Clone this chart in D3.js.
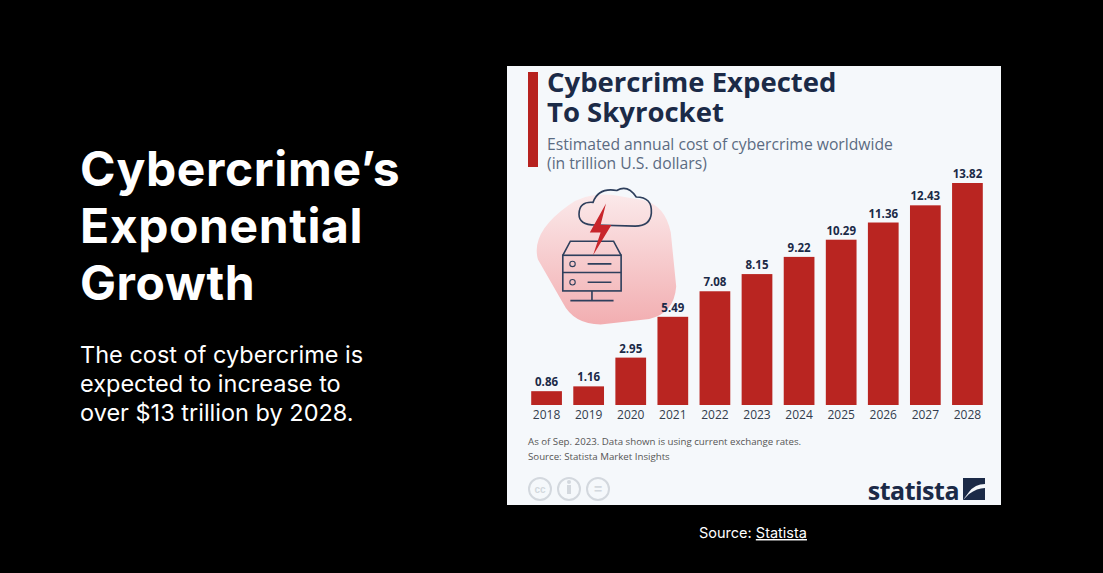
<!DOCTYPE html>
<html><head><meta charset="utf-8">
<script src="https://cdn.jsdelivr.net/npm/d3@7"></script>
<style>body{margin:0;background:#000;}svg{display:block;}</style>
</head><body><svg id="c" width="1103" height="573"></svg>
<script>
var years = ["2018","2019","2020","2021","2022","2023","2024","2025","2026","2027","2028"];
var cost = [0.86,1.16,2.95,5.49,7.08,8.15,9.22,10.29,11.36,12.43,13.82];
var headline = ["Cybercrime’s","Exponential","Growth"];
var blurb = ["The cost of cybercrime is","expected to increase to","over $13 trillion by 2028."];

var svg = d3.select("#c");
var font = "Inter, 'Open Sans', sans-serif";

// left side text
svg.selectAll(".h").data(headline).enter().append("text")
  .attr("x", 80).attr("y", function(d,i){ return 186 + i*57; })
  .attr("fill", "#fff").attr("font-family", font).attr("font-weight", 700)
  .attr("font-size", 48).attr("letter-spacing", 0.6).text(function(d){ return d; });
svg.selectAll(".b").data(blurb).enter().append("text")
  .attr("x", 80).attr("y", function(d,i){ return 363 + i*29; })
  .attr("fill", "#fff").attr("font-family", font).attr("font-size", 23.5).text(function(d){ return d; });

var src = svg.append("text").attr("x", 753).attr("y", 538).attr("text-anchor", "middle")
  .attr("fill", "#fff").attr("font-family", font).attr("font-size", 14.5);
src.append("tspan").text("Source: ");
src.append("tspan").attr("text-decoration", "underline").text("Statista");

// statista panel
var g = svg.append("g").attr("transform", "translate(507,66)");
g.append("rect").attr("width", 494).attr("height", 439).attr("fill", "#f5f8fb");
g.append("rect").attr("x", 21).attr("y", 6).attr("width", 10).attr("height", 95).attr("fill", "#b7221f");
["Cybercrime Expected","To Skyrocket"].forEach(function(t,i){
  g.append("text").attr("x", 40).attr("y", 26 + i*30).attr("font-family", "'Open Sans', sans-serif")
    .attr("font-weight", 700).attr("font-size", 27.5).attr("fill", "#1b2a47").text(t);
});
["Estimated annual cost of cybercrime worldwide","(in trillion U.S. dollars)"].forEach(function(t,i){
  g.append("text").attr("x", 40).attr("y", 84 + i*19).attr("font-family", "'Open Sans', sans-serif")
    .attr("font-size", 15.7).attr("fill", "#5b6b82").text(t);
});

// icon
var ic = g.append("g").attr("transform", "translate(18,118) scale(1.08)");
var grad = svg.append("defs").append("linearGradient").attr("id","pg").attr("x1",0).attr("y1",0).attr("x2",0).attr("y2",1);
grad.append("stop").attr("offset","0").attr("stop-color","#fbe9ea");
grad.append("stop").attr("offset","1").attr("stop-color","#f2aeb1");
ic.append("path").attr("d","M40,20 Q55,8 80,10 L110,15 Q130,20 135,45 L140,95 Q138,120 115,125 L70,130 Q45,130 35,110 L12,70 Q5,45 40,20Z").attr("fill","url(#pg)");
ic.append("path").attr("d","M65,38 Q50,38 50,28 Q50,16 63,17 Q68,3 85,6 Q95,0 103,12 Q118,12 117,27 Q116,39 102,39 Z").attr("fill","none").attr("stroke","#2e3f5c").attr("stroke-width",1.5);
ic.append("rect").attr("x",35).attr("y",66).attr("width",54).attr("height",33).attr("fill","none").attr("stroke","#2e3f5c").attr("stroke-width",1.5);
ic.append("path").attr("d","M35,66 L42,53 L82,53 L89,66 M62,99 L62,108 M42,108 L82,108 M35,82 L89,82 M58,74 L80,74 M58,91 L80,91").attr("fill","none").attr("stroke","#2e3f5c").attr("stroke-width",1.5);
ic.append("circle").attr("cx",44).attr("cy",74).attr("r",2.5).attr("fill","none").attr("stroke","#2e3f5c");
ic.append("circle").attr("cx",44).attr("cy",91).attr("r",2.5).attr("fill","none").attr("stroke","#2e3f5c");
ic.append("path").attr("d","M75,18 L60,45 L70,45 L63,66 L80,38 L70,38 Z").attr("fill","#c8252b");

// bars
var x = d3.scaleBand().domain(years).range([20, 480]).paddingInner(0.27).paddingOuter(0.1);
var y = d3.scaleLinear().domain([0, 13.82]).range([339, 117]);
g.selectAll(".bar").data(cost).enter().append("rect")
  .attr("x", function(d,i){ return x(years[i]); }).attr("width", x.bandwidth())
  .attr("y", function(d){ return y(d); }).attr("height", function(d){ return y(0) - y(d); })
  .attr("fill", "#b92521");
g.selectAll(".val").data(cost).enter().append("text")
  .attr("x", function(d,i){ return x(years[i]) + x.bandwidth()/2; }).attr("y", function(d){ return y(d) - 5; })
  .attr("text-anchor", "middle").attr("font-family", "'Open Sans', sans-serif").attr("font-weight", 700)
  .attr("font-size", 11.5).attr("fill", "#1b2a47").text(function(d){ return d.toFixed(2); });
var ax = g.append("g").attr("transform", "translate(0,339)")
  .call(d3.axisBottom(x).tickSize(0).tickPadding(5));
ax.select(".domain").remove();
ax.selectAll("text").attr("font-family", "'Open Sans', sans-serif").attr("font-size", 12).attr("fill", "#333d4d");

g.append("text").attr("x", 21).attr("y", 379).attr("font-family", "'Open Sans', sans-serif").attr("font-size", 9.7).attr("fill", "#555")
  .text("As of Sep. 2023. Data shown is using current exchange rates.");
g.append("text").attr("x", 21).attr("y", 394).attr("font-family", "'Open Sans', sans-serif").attr("font-size", 9.7).attr("fill", "#555")
  .text("Source: Statista Market Insights");
[33, 62, 91].forEach(function(cx, i){
  g.append("circle").attr("cx", cx).attr("cy", 423).attr("r", 11).attr("fill", "none").attr("stroke", "#d3d8de").attr("stroke-width", 2);
});
g.append("text").attr("x", 33).attr("y", 427).attr("text-anchor","middle").attr("font-family","sans-serif").attr("font-size",10).attr("font-weight",700).attr("fill","#d3d8de").text("cc");
g.append("text").attr("x", 91).attr("y", 428).attr("text-anchor","middle").attr("font-family","sans-serif").attr("font-size",14).attr("font-weight",700).attr("fill","#d3d8de").text("=");
g.append("circle").attr("cx",62).attr("cy",416).attr("r",2).attr("fill","#d3d8de");
g.append("rect").attr("x",60).attr("y",419).attr("width",4).attr("height",9).attr("fill","#d3d8de");
g.append("text").attr("x", 452).attr("y", 434).attr("text-anchor","end").attr("font-family","'Open Sans', sans-serif")
  .attr("font-weight",700).attr("font-size",25).attr("fill","#1b2a47").attr("letter-spacing",-0.5).text("statista");
g.append("path").attr("d","M456,412 L478,412 L478,418 Q468,418 462,426 L456,434 Z M478,434 L456,434 L462,428 Q470,422 478,422 Z").attr("fill","#1b2a47");
</script></body></html>
